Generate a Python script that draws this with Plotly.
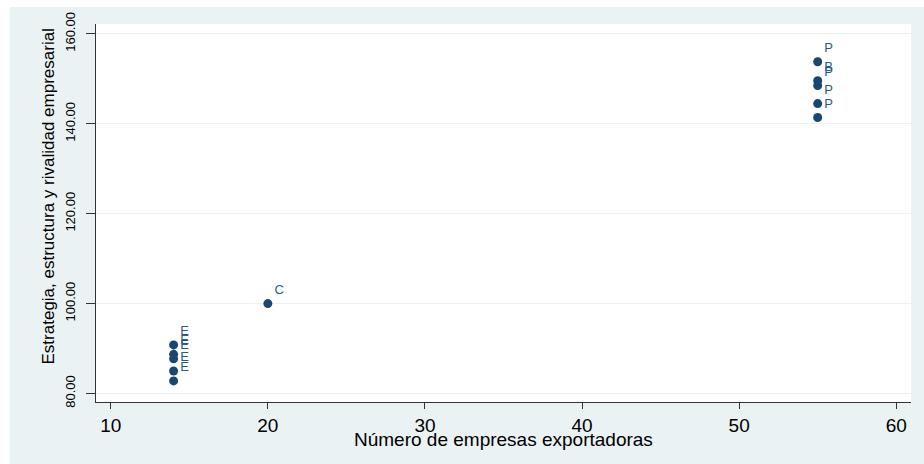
import plotly.graph_objs as go

# valores
exportadoras = [14, 14, 14, 14, 14, 20, 55, 55, 55, 55, 55]
estrategia = [90.8, 88.7, 87.7, 85.0, 82.8, 100.0, 153.8, 149.6, 148.5, 144.5, 141.4]
etiquetas = ["E", "E", "E", "E", "E", "C", "P", "B", "P", "P", "P"]

x_ticks = [10, 20, 30, 40, 50, 60]
y_ticks = [80, 100, 120, 140, 160]
y_ticktext = ["80.00", "100.00", "120.00", "140.00", "160.00"]

navy = "#1a476f"
bluish = "#eaf2f3"

fig = go.Figure()
fig.add_trace(go.Scatter(
    x=exportadoras, y=estrategia, mode="markers+text", text=etiquetas,
    textposition="top right",
    marker=dict(color=navy, size=9, line=dict(width=0)),
    textfont=dict(family="Liberation Sans", size=13, color="#2a5a84"),
    showlegend=False,
))

fig.update_layout(
    width=924, height=464,
    margin=dict(l=96, r=13, t=24, b=62),
    paper_bgcolor="white",
    plot_bgcolor="white",
    font_family="Liberation Sans",
    shapes=[
        dict(type="rect", xref="paper", yref="paper", x0=-0.1055, x1=1.1, y0=-0.3, y1=1.045,
             fillcolor=bluish, line=dict(width=0), layer="below"),
        dict(type="rect", xref="paper", yref="paper", x0=0, x1=1, y0=0, y1=1,
             fillcolor="white", line=dict(width=0), layer="below"),
    ],
    annotations=[
        dict(text="Número de empresas exportadoras", xref="paper", yref="paper",
             x=0.5, y=-0.1005, xanchor="center", yanchor="middle", showarrow=False,
             font=dict(size=19, color="black")),
        dict(text="Estrategia, estructura y rivalidad empresarial", xref="paper", yref="paper",
             x=-0.0589, y=0.5437, xanchor="center", yanchor="middle", textangle=-90,
             showarrow=False, font=dict(size=17, color="black")),
    ],
)
fig.update_xaxes(
    range=[9.06, 60.94], tickvals=x_ticks, showgrid=False, zeroline=False,
    showline=True, linecolor="#333333", linewidth=1, automargin=False,
    ticks="outside", ticklen=6, tickcolor="#333333",
    tickfont=dict(size=19, color="black"),
)
fig.update_yaxes(
    range=[78.1, 162.2], tickvals=y_ticks, ticktext=y_ticktext, tickangle=-90,
    showgrid=True, gridcolor=bluish, gridwidth=1, zeroline=False,
    showline=True, linecolor="#333333", linewidth=1, automargin=False,
    ticks="outside", ticklen=9, tickcolor="#333333", ticklabelstandoff=6,
    tickfont=dict(size=13, color="black"),
)

fig.write_html("out.html", config={"displayModeBar": False},
               post_script="document.body.style.margin='0';")
